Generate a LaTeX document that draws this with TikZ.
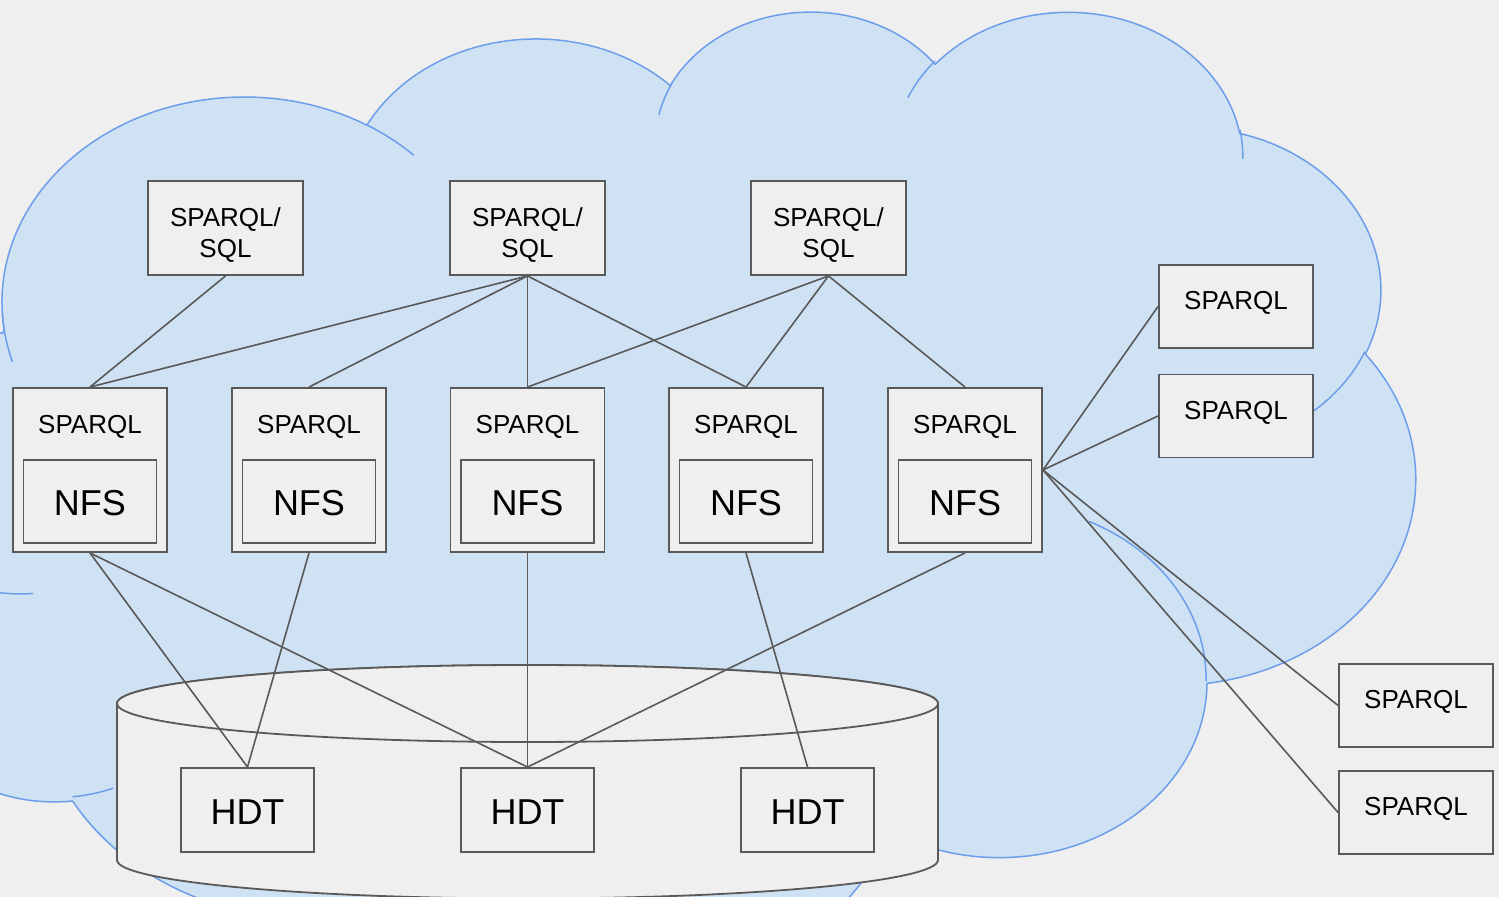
\documentclass[tikz,border=0pt]{standalone}
\usepackage{fontspec}
\setmainfont{Liberation Sans}

\definecolor{bg}{HTML}{EFEFEF}
\definecolor{cloudfill}{HTML}{CFE2F3}
\definecolor{cloudline}{HTML}{6D9EEB}
\definecolor{boxline}{HTML}{595959}

\tikzset{
  % one lobe of the cloud: x radius, y radius, start angle, sweep (visual angles)
  lobe/.style n args={4}{insert path={
    arc[start angle={atan2(sin(#3)/#2,cos(#3)/#1)},
        delta angle={mod(atan2(sin(#3+#4)/#2,cos(#3+#4)/#1)-atan2(sin(#3)/#2,cos(#3)/#1)+720,360)},
        x radius=#1cm, y radius=#2cm]}},
  cloudbody/.style={fill=cloudfill, draw=cloudline, line width=0.75pt, line join=round},
  cloudedge/.style={draw=cloudline, line width=0.75pt, line cap=round},
  frame/.style={draw=boxline, fill=bg, line width=0.95pt, inner sep=0pt},
  qbox/.style={frame, minimum width=77.5pt, minimum height=47pt},
  sbox/.style={frame, minimum width=77pt, minimum height=82pt},
  rbox/.style={frame, minimum width=77pt, minimum height=41.5pt},
  nbox/.style={frame, minimum width=66.5pt, minimum height=41.5pt,
    font=\fontsize{18}{21.6}\selectfont, text height=14pt, text depth=0pt},
  hbox/.style={frame, minimum width=66.5pt, minimum height=42pt,
    font=\fontsize{18}{21.6}\selectfont, text height=14pt, text depth=0pt},
  lbl/.style={inner sep=0pt, anchor=base, font=\fontsize{13}{15.75}\selectfont},
  link/.style={draw=boxline, line width=0.8pt},
  disk/.style={draw=boxline, fill=bg, line width=0.9pt},
}

\begin{document}
\begin{tikzpicture}[x=0.5pt, y=-0.5pt]
\path[use as bounding box] (0,0) rectangle (1499,897);
\clip (0,0) rectangle (1499,897);
\fill[bg] (0,0) rectangle (1499,897);

% cloud outline, built lobe by lobe
\begin{scope}[shift={(-67.9pt,-4.5pt)}, x=1cm, y=1cm, xscale=0.63087, yscale=-0.39240]
  \path[cloudbody] (3.9,14.37)
    [lobe={6.753}{9.190}{-190.48748}{123.78053}]
    [lobe={5.333}{7.267}{-144.10238}{89.94523}]
    [lobe={4.365}{5.945}{-145.80792}{99.72302}]
    [lobe={4.857}{6.595}{-130.98607}{117.24173}]
    [lobe={5.333}{7.273}{-78.70888}{109.02692}]
    [lobe={6.775}{9.220}{-46.26725}{130.26900}]
    [lobe={5.785}{7.867}{0.62502}{114.03333}]
    [lobe={6.752}{9.215}{22.45160}{115.17255}]
    [lobe={7.720}{10.543}{66.24263}{75.71102}]
    [lobe={4.360}{5.918}{-274.94208}{146.73557}]
    [lobe={4.345}{5.945}{-246.82850}{152.51885}]
    -- cycle;
  % inner arcs where the lobes overlap
  \path[cloudedge]
    (4.693,26.177) [lobe={4.345}{5.945}{86.742}{26.4295}]
    (6.928,34.899) [lobe={4.360}{5.918}{73.6105}{11.4475}]
    (16.478,39.090) [lobe={6.752}{9.215}{137.6242}{14.0811}]
    (28.827,34.751) [lobe={6.752}{9.215}{6.4533}{15.9984}]
    (34.129,22.954) [lobe={5.785}{7.867}{-70.2924}{70.9174}]
    (41.798,15.354) [lobe={5.333}{7.273}{30.3180}{27.7515}]
    (38.324,5.426) [lobe={4.857}{6.595}{-13.7443}{14.8589}]
    (29.078,3.952) [lobe={4.857}{6.595}{-149.1815}{18.1954}]
    (22.141,4.720) [lobe={4.365}{5.945}{-163.4943}{17.6864}]
    (14.000,5.192) [lobe={6.753}{9.190}{-66.7070}{12.3194}]
    (4.127,15.789) [lobe={6.753}{9.190}{157.6}{18.08}];
\end{scope}

% storage cylinder
\path[disk] (117,703.5) -- (117,860)
  arc[start angle=180, end angle=360, x radius=205.25pt, y radius=19.25pt]
  -- (938,703.5)
  arc[start angle=0, end angle=180, x radius=205.25pt, y radius=19.25pt] -- cycle;
\draw[disk] (527.5,703.5) ellipse[x radius=205.25pt, y radius=19.25pt];

% query front ends
\node[qbox] (q1) at (225.5,228) {};
\node[qbox] (q2) at (527.5,228) {};
\node[qbox] (q3) at (828.5,228) {};
\foreach \q in {q1,q2,q3}
  \node[lbl] (\q t) at ([yshift=-23.15pt]\q.north) {\begin{tabular}[t]{@{}c@{}}SPARQL/\\SQL\end{tabular}};

% SPARQL servers with their NFS mounts
\foreach \i/\x in {1/90,2/309,3/527.5,4/746,5/965}{
  \node[sbox] (s\i) at (\x,470) {};
  \node[lbl] (s\i t) at ([yshift=-23.25pt]s\i.north) {SPARQL};
  \node[nbox] (n\i) at (\x,501.5) {NFS};
}

% external SPARQL endpoints
\node[rbox] (r1) at (1236,306.5) {};
\node[rbox] (r2) at (1236,416) {};
\node[rbox] (r3) at (1416,705.5) {};
\node[rbox] (r4) at (1416,812.5) {};
\foreach \r in {r1,r2,r3,r4}
  \node[lbl] (\r t) at ([yshift=-22.8pt]\r.north) {SPARQL};

% HDT files
\node[hbox] (h1) at (247.5,810) {HDT};
\node[hbox] (h2) at (527.5,810) {HDT};
\node[hbox] (h3) at (807.5,810) {HDT};

% connections
\draw[link] (q1.south) -- (s1.north);
\draw[link] (q2.south) -- (s1.north);
\draw[link] (q2.south) -- (s2.north);
\draw[link] (q2.south) -- (s3.north);
\draw[link] (q2.south) -- (s4.north);
\draw[link] (q3.south) -- (s3.north);
\draw[link] (q3.south) -- (s4.north);
\draw[link] (q3.south) -- (s5.north);
\draw[link] (s1.south) -- (h1.north);
\draw[link] (s1.south) -- (h2.north);
\draw[link] (s2.south) -- (h1.north);
\draw[link] (s3.south) -- (h2.north);
\draw[link] (s4.south) -- (h3.north);
\draw[link] (s5.south) -- (h2.north);
\draw[link] (s5.east) -- (r1.west);
\draw[link] (s5.east) -- (r2.west);
\draw[link] (s5.east) -- (r3.west);
\draw[link] (s5.east) -- (r4.west);
\end{tikzpicture}
\end{document}
